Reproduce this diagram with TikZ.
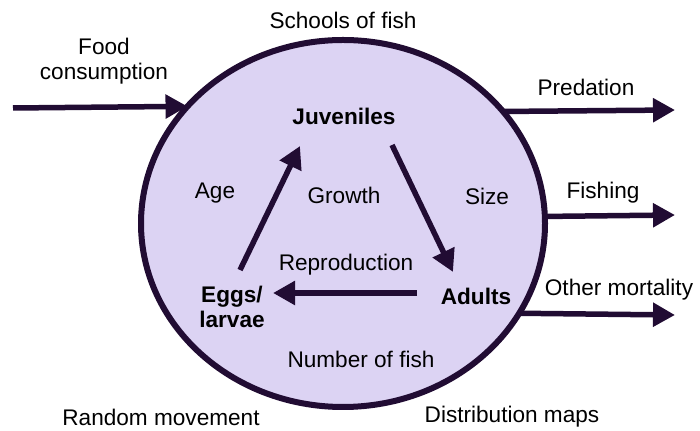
\documentclass[tikz,border=0pt]{standalone}
\usepackage{fontspec}
\setmainfont{Liberation Sans}
\usetikzlibrary{shapes.geometric,arrows.meta}
\definecolor{poolfill}{RGB}{220,211,243}
\definecolor{ink}{RGB}{33,12,51}
\tikzset{
  pool/.style={ellipse,draw=ink,fill=poolfill,line width=3pt,inner sep=0pt,outer sep=0pt,
    minimum width=202pt,minimum height=183.5pt},
  flow/.style={draw=ink,line width=2.75pt,-{Triangle[length=11pt,width=11.5pt]}},
  lbl/.style={font=\fontsize{11.3pt}{12.6pt}\selectfont,text=black,inner sep=0pt,align=center},
  stage/.style={lbl,font=\fontsize{11.3pt}{12.8pt}\selectfont\bfseries}
}
\begin{document}
\begin{tikzpicture}[x=0.5pt,y=-0.5pt]
\useasboundingbox (0,0) rectangle (700,431);
\node[pool] (pool) at (343,223.5) {};
% outside labels
\node[lbl] (schools) at (343,20) {Schools of fish};
\node[lbl] (food) at (104,61) {Food\\consumption};
\node[lbl] (pred) at (586,87) {Predation};
\node[lbl] (fish) at (603,193) {Fishing};
\node[lbl] (other) at (619,290) {Other mortality};
\node[lbl] (random) at (161,417) {Random movement};
\node[lbl] (distr) at (512,417) {Distribution maps};
% inside labels
\node[stage] (juv) at (344,116) {Juveniles};
\node[stage] (eggs) at (232,307) {Eggs/\\larvae};
\node[stage] (adults) at (476,296) {Adults};
\node[lbl] (age) at (215,193) {Age};
\node[lbl] (growth) at (344,195) {Growth};
\node[lbl] (size) at (487,196) {Size};
\node[lbl] (repro) at (346,265) {Reproduction};
\node[lbl] (number) at (361,359) {Number of fish};
% free ends
\coordinate (foodStart) at (13,108);
\coordinate (predEnd) at (675,110);
\coordinate (fishEnd) at (675,215);
\coordinate (otherEnd) at (675,315);
\coordinate (g1s) at (240,270);
\coordinate (g1e) at (300,146);
\coordinate (g2s) at (392,145);
\coordinate (g2e) at (453,272);
\coordinate (g3s) at (417,293);
\coordinate (g3e) at (273,293);
% connectors
\draw[flow] (foodStart) -- (pool.143.7);
\draw[flow] (pool.35.5) -- (predEnd);
\draw[flow] (pool.2.4) -- (fishEnd);
\draw[flow] (pool.-27.5) -- (otherEnd);
\draw[flow] (g1s) -- (g1e);
\draw[flow] (g2s) -- (g2e);
\draw[flow] (g3s) -- (g3e);
\end{tikzpicture}
\end{document}
